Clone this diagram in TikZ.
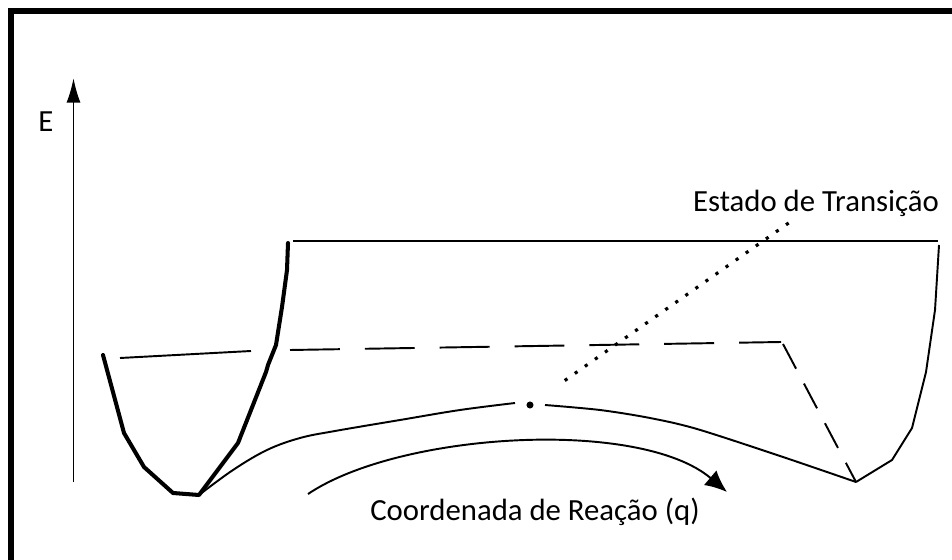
\documentclass[tikz,border=0pt]{standalone}
\usepackage{fontspec}
\setmainfont{Carlito}
\usetikzlibrary{arrows.meta}
\tikzstyle{frame} = [line width=3.4pt]
\tikzstyle{wall} = [line width=2.3pt, line join=round, line cap=round]
\tikzstyle{thin} = [line width=1.1pt, line join=round]
\tikzstyle{longdash} = [line width=1.1pt, dash pattern=on 28.4pt off 14.2pt]
\tikzstyle{shortdash} = [line width=1.1pt, dash pattern=on 15.9pt off 9.6pt]
\tikzstyle{dotline} = [line width=1.8pt, dash pattern=on 1.8pt off 5.2pt]
\tikzstyle{lbl} = [font=\fontsize{17.5}{20}\selectfont, inner sep=0pt]
\tikzstyle{tsdot} = [circle, fill=black, inner sep=0pt, minimum size=4pt]

\begin{document}
\begin{tikzpicture}[x=0.02cm, y=-0.02cm]

  \useasboundingbox (0,0) rectangle (952,560);

  %% Frame (only left and top edges show)
  \draw [frame] (11,560) -- (11,11) -- (952,11);

  %% Energy axis
  \coordinate (orig) at (73.5,482);
  \coordinate (etop) at (73.5,78);
  \draw [thin, -{Latex[length=14pt, width=8pt]}] (orig) -- (etop);
  \node (elab) [lbl, anchor=base west] at (38,132) {E};

  %% Minima of the two wells
  \coordinate (minA) at (199,495);
  \coordinate (minB) at (856,482);

  %% Left well (thick)
  \draw [wall] (103,355) -- (124,433) -- (144,467) -- (173,493) -- (minA)
    -- (238,443) -- (266,372) -- (268,365) -- (276,345) -- (282,307)
    -- (287,270) -- (288,243);

  %% Right well
  \draw [thin] (293,241) -- (938,241);
  \draw [thin] (939,245) -- (935,310) -- (926,372) -- (912,428) -- (892,460) -- (minB);

  %% Level lines
  \draw [thin] (120,358) -- (251,351);
  \coordinate (dcorner) at (781,342);
  \draw [longdash] (290,350) -- (dcorner);
  \draw [shortdash] (783,344) -- (minB);

  %% Reaction path with the transition state
  \node (ts) [tsdot] at (530,405) {};
  \draw [thin] plot [smooth, tension=0.6] coordinates {(minA) (233,470) (267,450)
    (300,438) (335,431) (400,420) (460,410) (515,403)};
  \draw [thin] plot [smooth, tension=0.5] coordinates {(545,405) (600,410)
    (650,418) (697,429) (780,456) (minB)};

  %% Pointer to the transition state
  \coordinate (tstop) at (790,222);
  \node (tslab) [lbl, anchor=base] at (816,212) {Estado de Transição};
  \draw [dotline, shorten <=22pt] (ts) -- (tstop);

  %% Reaction coordinate arrow
  \coordinate (rcA) at (308,494);
  \coordinate (rcB) at (727,492);
  \draw [thin, -{Latex[length=12.5pt, width=11pt]}] (rcA)
    .. controls (400,432) and (640,418) .. (rcB);
  \node (rclab) [lbl, anchor=base] at (535,520) {Coordenada de Reação (q)};

\end{tikzpicture}
\end{document}
